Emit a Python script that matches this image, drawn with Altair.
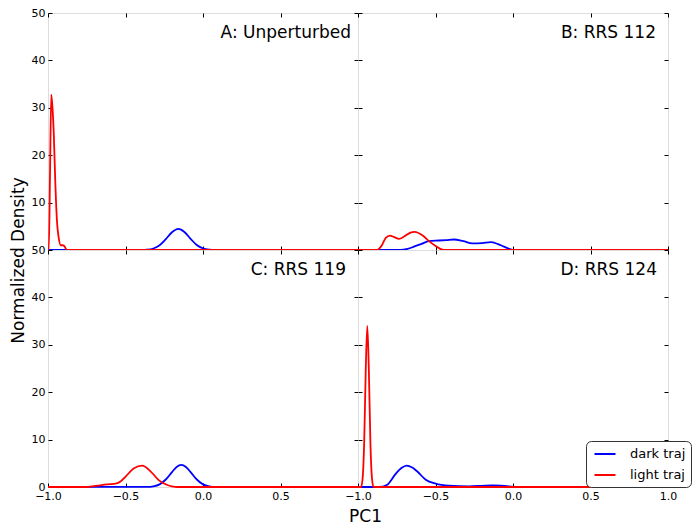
import altair as alt
import pandas as pd

# ---------------- data ----------------
panel_labels = ["A: Unperturbed", "B: RRS 112", "C: RRS 119", "D: RRS 124"]
series_names = ["dark traj", "light traj"]
series_colors = ["#0000ff", "#ff0000"]

A_dark_x = [-1.0, -0.40, -0.36, -0.32, -0.28, -0.24, -0.20, -0.159, -0.12, -0.08, -0.04, 0.0, 0.04, 0.08, 1.0]
A_dark_y = [0, 0.01, 0.07, 0.32, 1.0, 2.28, 3.75, 4.45, 3.81, 2.35, 1.05, 0.34, 0.08, 0.01, 0]
A_light_x = [-1.0, -0.995, -0.987, -0.979, -0.971, -0.963, -0.953, -0.942, -0.931, -0.918, -0.905, -0.897, -0.877, 1.0]
A_light_y = [0, 0, 16, 32.8, 30, 24.8, 14.4, 6, 2.6, 1.0, 1.0, 0.9, 0, 0]

B_dark_x = [-1.0, -0.725, -0.68, -0.639, -0.59, -0.542, -0.477, -0.43, -0.381, -0.32, -0.263, -0.2, -0.144, -0.1, -0.058, -0.02, 0.006, 1.0]
B_dark_y = [0, 0, 0.25, 0.7, 1.3, 1.875, 2.0, 2.1, 2.22, 1.85, 1.39, 1.45, 1.67, 1.3, 0.7, 0.2, 0, 0]
B_light_x = [-1.0, -0.879, -0.86, -0.843, -0.821, -0.794, -0.765, -0.735, -0.70, -0.665, -0.634, -0.585, -0.542, -0.499, -0.47, -0.445, 1.0]
B_light_y = [0, 0, 0.4, 1.18, 2.57, 3.05, 2.7, 2.36, 2.9, 3.6, 3.82, 3.1, 1.875, 0.83, 0.25, 0, 0]

C_dark_x = [-1.0, -0.36, -0.32, -0.28, -0.24, -0.20, -0.17, -0.14, -0.11, -0.08, -0.04, 0.0, 0.04, 0.08, 1.0]
C_dark_y = [0, 0.02, 0.14, 0.56, 1.58, 3.15, 4.22, 4.65, 4.22, 3.15, 1.58, 0.56, 0.14, 0.02, 0]
C_light_x = [-1.0, -0.746, -0.682, -0.617, -0.563, -0.53, -0.499, -0.445, -0.392, -0.337, -0.284, -0.23, -0.20, -0.166, 1.0]
C_light_y = [0, 0, 0.28, 0.55, 0.69, 1.2, 2.2, 3.96, 4.51, 3.26, 1.39, 0.42, 0.15, 0, 0]

D_dark_x = [-1.0, -0.865, -0.811, -0.757, -0.72, -0.686, -0.65, -0.617, -0.563, -0.499, -0.413, -0.284, -0.2, -0.134, -0.08, -0.026, 0.017, 1.0]
D_dark_y = [0, 0, 0.49, 2.78, 4.0, 4.51, 4.1, 3.26, 1.53, 0.7, 0.28, 0.14, 0.25, 0.35, 0.28, 0.14, 0, 0]
D_light_x = [-1.0, -0.98, -0.97, -0.96, -0.95, -0.94, -0.93, -0.92, -0.91, -0.90, 1.0]
D_light_y = [0, 0, 1.9, 9.5, 24.7, 34, 24.7, 9.5, 1.9, 0, 0]

x_ticks = [-1.0, -0.5, 0.0, 0.5, 1.0]
y_ticks = [0, 10, 20, 30, 40, 50]

# ---------------- chart ----------------
FONT = "DejaVu Sans"
W, H = 310, 237


def make_df(dx, dy, lx, ly):
    d1 = pd.DataFrame({"x": dx, "y": dy, "series": series_names[0]})
    d2 = pd.DataFrame({"x": lx, "y": ly, "series": series_names[1]})
    return pd.concat([d1, d2], ignore_index=True)


tick_style = dict(domain=False, grid=False, tickSize=4, offset=-4, tickColor="black",
                  tickWidth=1, labelColor="black", labelFont=FONT, labelFontSize=11,
                  labelPadding=3, labelOverlap=False, labelFlush=False,
                  minExtent=0)

legend = alt.Legend(title=None, orient="none", legendX=538, legendY=H * 2 - 46,
                    direction="vertical",
                    symbolType="M-1.5,0H1.5", symbolSize=196, symbolStrokeWidth=2,
                    symbolOffset=6,
                    labelFont=FONT, labelFontSize=13, labelColor="black", labelOffset=17,
                    strokeColor="#333333", fillColor="white", cornerRadius=5, padding=5,
                    rowPadding=6)


def panel(df, label, label_right, x_vals, y_vals, x_labels, y_labels, x_title=None, y_title=None):
    xs = alt.Scale(domain=[-1, 1], nice=False, zero=False)
    ys = alt.Scale(domain=[0, 50], nice=False)
    xkw = dict(tick_style)
    ykw = dict(tick_style)
    if x_title:
        xkw.update(title=x_title, titleFont=FONT, titleFontSize=17, titleFontWeight="normal",
                   titleColor="black", titleX=317, titleY=38, titleBaseline="alphabetic",
                   titleAlign="center")
    if y_title:
        ykw.update(title=y_title, titleFont=FONT, titleFontSize=17, titleFontWeight="normal",
                   titleColor="black", titleX=-34, titleY=H + 10, titleBaseline="middle",
                   titleAlign="center", titleAngle=270)
    x_axis = alt.Axis(orient="bottom", values=x_vals, labels=x_labels, **xkw)
    y_axis = alt.Axis(orient="left", values=y_vals, labels=y_labels, **ykw)
    lines = alt.Chart(df).mark_line(strokeWidth=1.8, interpolate="monotone").encode(
        x=alt.X("x:Q", scale=xs, axis=x_axis, title=x_title),
        y=alt.Y("y:Q", scale=ys, axis=y_axis, title=y_title),
        color=alt.Color("series:N", scale=alt.Scale(domain=series_names, range=series_colors),
                        legend=legend),
        detail="series:N",
    )
    ticks = alt.Chart(df).mark_point(opacity=0, size=1).encode(
        x=alt.X("x:Q", scale=xs, title=None,
                axis=alt.Axis(orient="top", values=x_ticks, labels=False, **tick_style)),
        y=alt.Y("y:Q", scale=ys, title=None,
                axis=alt.Axis(orient="right", values=y_ticks, labels=False, **tick_style)),
    )
    text = alt.Chart(pd.DataFrame({"label": [label]})).mark_text(
        align="right", baseline="alphabetic", font=FONT, fontSize=17, color="black"
    ).encode(text="label:N", x=alt.value(label_right), y=alt.value(25))
    return alt.layer(lines, ticks, text).resolve_scale(
        x="independent", y="independent").resolve_axis(
        x="independent", y="independent").properties(width=W, height=H)


pA = panel(make_df(A_dark_x, A_dark_y, A_light_x, A_light_y), panel_labels[0], 303,
           x_ticks, [10, 20, 30, 40, 50], False, True, y_title="Normalized Density")
pB = panel(make_df(B_dark_x, B_dark_y, B_light_x, B_light_y), panel_labels[1], 298,
           x_ticks, y_ticks, False, False)
pC = panel(make_df(C_dark_x, C_dark_y, C_light_x, C_light_y), panel_labels[2], 298,
           [-1.0, -0.5, 0.0, 0.5], y_ticks, True, True, x_title="PC1")
pD = panel(make_df(D_dark_x, D_dark_y, D_light_x, D_light_y), panel_labels[3], 299,
           x_ticks, y_ticks, True, False)

chart = alt.concat(pA, pB, pC, pD, columns=2, spacing=0, bounds="flush").resolve_scale(
    color="shared").resolve_legend(color="shared").properties(
    padding={"left": 0, "top": -2, "right": 0, "bottom": 0}).configure_view(
    stroke="black", strokeWidth=1).configure(background="white")

chart.save("out.html", embed_options={"renderer": "svg", "actions": False})
